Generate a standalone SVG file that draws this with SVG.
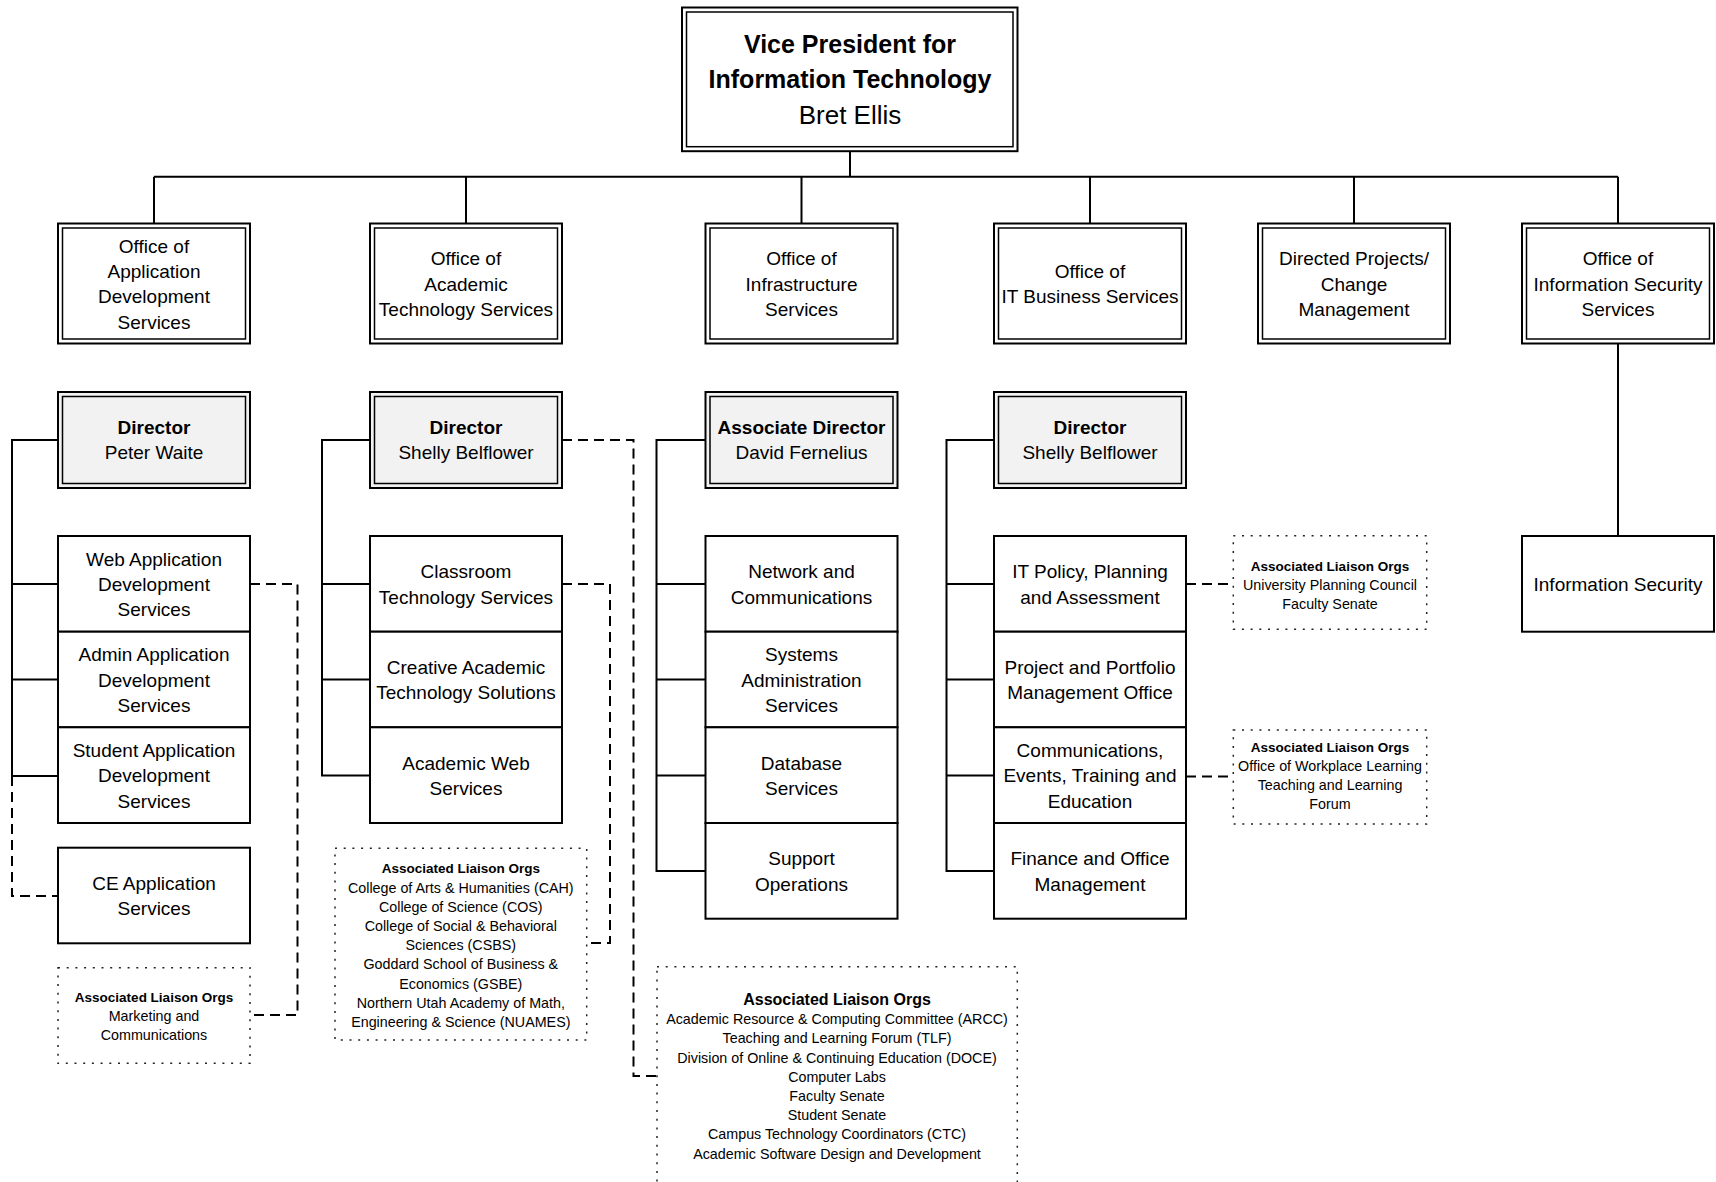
<svg xmlns="http://www.w3.org/2000/svg" width="1716" height="1182" viewBox="0 0 1716 1182">
<style>
.bg{fill:#fff}
.ob{fill:#fff;stroke:#000;stroke-width:2}
.ib{fill:none;stroke:#000;stroke-width:1.5}
.dir{fill:#f2f2f2}
.sb{fill:#fff;stroke:#000;stroke-width:2}
.dot{fill:#fff;stroke:#222;stroke-width:1.5;stroke-dasharray:2 6.7}
.ln{fill:none;stroke:#000;stroke-width:2}
.dl{fill:none;stroke:#000;stroke-width:2;stroke-dasharray:10 6}
text{font-family:"Liberation Sans",Arial,sans-serif;text-anchor:middle;fill:#000}
.t{font-size:19px}
.b{font-weight:bold}
.s{font-size:14.3px}
.sh{font-size:13.5px;font-weight:bold}
.sh2{font-size:16px;font-weight:bold}
</style>
<rect class="bg" x="0" y="0" width="1716" height="1182"/>

<g id="connectors">
  <path class="ln" d="M850 151.5 V176.7 M154 176.7 H1618 M154 176.7 V223.5 M466 176.7 V223.5 M801.5 176.7 V223.5 M1090 176.7 V223.5 M1354 176.7 V223.5 M1618 176.7 V223.5 M1618 343.5 V536"/>
  <path class="ln" d="M58 440 H12 V776 H58 M12 584 H58 M12 679.5 H58"/>
  <path class="dl" d="M12 776 V896 H58"/>
  <path class="ln" d="M370 440 H322 V775.5 H370 M322 584 H370 M322 679.5 H370"/>
  <path class="ln" d="M705.5 440 H656.5 V871 H705.5 M656.5 584 H705.5 M656.5 679.5 H705.5 M656.5 775.5 H705.5"/>
  <path class="ln" d="M994 440 H946.5 V871 H994 M946.5 584 H994 M946.5 679.5 H994 M946.5 775.5 H994"/>
  <path class="dl" d="M250 584 H297.5 V1015 H250"/>
  <path class="dl" d="M562 584 H610 V943 H586.7"/>
  <path class="dl" d="M562 440 H633.5 V1076 H657"/>
  <path class="dl" d="M1186 584 H1233.3"/>
  <path class="dl" d="M1186 776.5 H1233.3"/>
</g>

<g id="vp">
  <rect class="ob" x="682" y="7.5" width="335.5" height="143.7"/>
  <rect class="ib" x="686.5" y="12" width="326.5" height="134.7"/>
  <text x="850" y="53" style="font-size:25px" class="b">Vice President for</text>
  <text x="850" y="87.5" style="font-size:25px" class="b">Information Technology</text>
  <text x="850" y="124" style="font-size:26px">Bret Ellis</text>
</g>

<g id="office-app">
  <rect class="ob" x="58" y="223.5" width="192" height="120"/>
  <rect class="ib" x="62.5" y="228" width="183" height="111"/>
  <text class="t" x="154"><tspan x="154" y="252.7">Office of</tspan><tspan x="154" y="278">Application</tspan><tspan x="154" y="303.3">Development</tspan><tspan x="154" y="328.6">Services</tspan></text>
</g>
<g id="office-academic">
  <rect class="ob" x="370" y="223.5" width="192" height="120"/>
  <rect class="ib" x="374.5" y="228" width="183" height="111"/>
  <text class="t" x="466"><tspan x="466" y="265.4">Office of</tspan><tspan x="466" y="290.7">Academic</tspan><tspan x="466" y="316">Technology Services</tspan></text>
</g>
<g id="office-infra">
  <rect class="ob" x="705.5" y="223.5" width="192" height="120"/>
  <rect class="ib" x="710" y="228" width="183" height="111"/>
  <text class="t" x="801.5"><tspan x="801.5" y="265.4">Office of</tspan><tspan x="801.5" y="290.7">Infrastructure</tspan><tspan x="801.5" y="316">Services</tspan></text>
</g>
<g id="office-business">
  <rect class="ob" x="994" y="223.5" width="192" height="120"/>
  <rect class="ib" x="998.5" y="228" width="183" height="111"/>
  <text class="t" x="1090"><tspan x="1090" y="278">Office of</tspan><tspan x="1090" y="303.3">IT Business Services</tspan></text>
</g>
<g id="directed-projects">
  <rect class="ob" x="1258" y="223.5" width="192" height="120"/>
  <rect class="ib" x="1262.5" y="228" width="183" height="111"/>
  <text class="t" x="1354"><tspan x="1354" y="265.4">Directed Projects/</tspan><tspan x="1354" y="290.7">Change</tspan><tspan x="1354" y="316">Management</tspan></text>
</g>
<g id="office-security">
  <rect class="ob" x="1522" y="223.5" width="192" height="120"/>
  <rect class="ib" x="1526.5" y="228" width="183" height="111"/>
  <text class="t" x="1618"><tspan x="1618" y="265.4">Office of</tspan><tspan x="1618" y="290.7">Information Security</tspan><tspan x="1618" y="316">Services</tspan></text>
</g>

<g id="dir-app">
  <rect class="ob dir" x="58" y="392" width="192" height="96"/>
  <rect class="ib" x="62.5" y="396.5" width="183" height="87"/>
  <text class="t b" x="154" y="433.5">Director</text>
  <text class="t" x="154" y="458.8">Peter Waite</text>
</g>
<g id="dir-academic">
  <rect class="ob dir" x="370" y="392" width="192" height="96"/>
  <rect class="ib" x="374.5" y="396.5" width="183" height="87"/>
  <text class="t b" x="466" y="433.5">Director</text>
  <text class="t" x="466" y="458.8">Shelly Belflower</text>
</g>
<g id="dir-infra">
  <rect class="ob dir" x="705.5" y="392" width="192" height="96"/>
  <rect class="ib" x="710" y="396.5" width="183" height="87"/>
  <text class="t b" x="801.5" y="433.5">Associate Director</text>
  <text class="t" x="801.5" y="458.8">David Fernelius</text>
</g>
<g id="dir-business">
  <rect class="ob dir" x="994" y="392" width="192" height="96"/>
  <rect class="ib" x="998.5" y="396.5" width="183" height="87"/>
  <text class="t b" x="1090" y="433.5">Director</text>
  <text class="t" x="1090" y="458.8">Shelly Belflower</text>
</g>

<g id="web-app">
  <rect class="sb" x="58" y="536" width="192" height="95.7"/>
  <text class="t"><tspan x="154" y="565.5">Web Application</tspan><tspan x="154" y="590.8">Development</tspan><tspan x="154" y="616.1">Services</tspan></text>
</g>
<g id="admin-app">
  <rect class="sb" x="58" y="631.7" width="192" height="95.6"/>
  <text class="t"><tspan x="154" y="661.2">Admin Application</tspan><tspan x="154" y="686.5">Development</tspan><tspan x="154" y="711.8">Services</tspan></text>
</g>
<g id="student-app">
  <rect class="sb" x="58" y="727.3" width="192" height="95.7"/>
  <text class="t"><tspan x="154" y="756.9">Student Application</tspan><tspan x="154" y="782.2">Development</tspan><tspan x="154" y="807.5">Services</tspan></text>
</g>
<g id="ce-app">
  <rect class="sb" x="58" y="847.7" width="192" height="95.6"/>
  <text class="t"><tspan x="154" y="889.9">CE Application</tspan><tspan x="154" y="915.2">Services</tspan></text>
</g>

<g id="classroom">
  <rect class="sb" x="370" y="536" width="192" height="95.7"/>
  <text class="t"><tspan x="466" y="578.2">Classroom</tspan><tspan x="466" y="603.5">Technology Services</tspan></text>
</g>
<g id="creative">
  <rect class="sb" x="370" y="631.7" width="192" height="95.6"/>
  <text class="t"><tspan x="466" y="673.9">Creative Academic</tspan><tspan x="466" y="699.2">Technology Solutions</tspan></text>
</g>
<g id="academic-web">
  <rect class="sb" x="370" y="727.3" width="192" height="95.7"/>
  <text class="t"><tspan x="466" y="769.6">Academic Web</tspan><tspan x="466" y="794.9">Services</tspan></text>
</g>

<g id="network">
  <rect class="sb" x="705.5" y="536" width="192" height="95.7"/>
  <text class="t"><tspan x="801.5" y="578.2">Network and</tspan><tspan x="801.5" y="603.5">Communications</tspan></text>
</g>
<g id="systems">
  <rect class="sb" x="705.5" y="631.7" width="192" height="95.6"/>
  <text class="t"><tspan x="801.5" y="661.2">Systems</tspan><tspan x="801.5" y="686.5">Administration</tspan><tspan x="801.5" y="711.8">Services</tspan></text>
</g>
<g id="database">
  <rect class="sb" x="705.5" y="727.3" width="192" height="95.7"/>
  <text class="t"><tspan x="801.5" y="769.6">Database</tspan><tspan x="801.5" y="794.9">Services</tspan></text>
</g>
<g id="support">
  <rect class="sb" x="705.5" y="823" width="192" height="95.7"/>
  <text class="t"><tspan x="801.5" y="865.2">Support</tspan><tspan x="801.5" y="890.5">Operations</tspan></text>
</g>

<g id="it-policy">
  <rect class="sb" x="994" y="536" width="192" height="95.7"/>
  <text class="t"><tspan x="1090" y="578.2">IT Policy, Planning</tspan><tspan x="1090" y="603.5">and Assessment</tspan></text>
</g>
<g id="portfolio">
  <rect class="sb" x="994" y="631.7" width="192" height="95.6"/>
  <text class="t"><tspan x="1090" y="673.9">Project and Portfolio</tspan><tspan x="1090" y="699.2">Management Office</tspan></text>
</g>
<g id="communications">
  <rect class="sb" x="994" y="727.3" width="192" height="95.7"/>
  <text class="t"><tspan x="1090" y="756.9">Communications,</tspan><tspan x="1090" y="782.2">Events, Training and</tspan><tspan x="1090" y="807.5">Education</tspan></text>
</g>
<g id="finance">
  <rect class="sb" x="994" y="823" width="192" height="95.7"/>
  <text class="t"><tspan x="1090" y="865.2">Finance and Office</tspan><tspan x="1090" y="890.5">Management</tspan></text>
</g>

<g id="information-security">
  <rect class="sb" x="1522" y="536" width="192" height="95.7"/>
  <text class="t" x="1618" y="590.8">Information Security</text>
</g>

<g id="liaison-app">
  <rect class="dot" x="58" y="967.7" width="192" height="95.6"/>
  <text class="sh" x="154" y="1001.7">Associated Liaison Orgs</text>
  <text class="s"><tspan x="154" y="1021">Marketing and</tspan><tspan x="154" y="1040.2">Communications</tspan></text>
</g>
<g id="liaison-classroom">
  <rect class="dot" x="335" y="848.3" width="251.7" height="191.7"/>
  <text class="sh" x="460.8" y="873.3">Associated Liaison Orgs</text>
  <text class="s"><tspan x="460.8" y="892.5">College of Arts &amp; Humanities (CAH)</tspan><tspan x="460.8" y="911.7">College of Science (COS)</tspan><tspan x="460.8" y="930.9">College of Social &amp; Behavioral</tspan><tspan x="460.8" y="950.1">Sciences (CSBS)</tspan><tspan x="460.8" y="969.3">Goddard School of Business &amp;</tspan><tspan x="460.8" y="988.5">Economics (GSBE)</tspan><tspan x="460.8" y="1007.7">Northern Utah Academy of Math,</tspan><tspan x="460.8" y="1026.9">Engineering &amp; Science (NUAMES)</tspan></text>
</g>
<g id="liaison-academic">
  <rect class="dot" x="657" y="966.7" width="360.3" height="230"/>
  <text class="sh2" x="837" y="1005">Associated Liaison Orgs</text>
  <text class="s"><tspan x="837" y="1024.2">Academic Resource &amp; Computing Committee (ARCC)</tspan><tspan x="837" y="1043.4">Teaching and Learning Forum (TLF)</tspan><tspan x="837" y="1062.6">Division of Online &amp; Continuing Education (DOCE)</tspan><tspan x="837" y="1081.8">Computer Labs</tspan><tspan x="837" y="1101">Faculty Senate</tspan><tspan x="837" y="1120.2">Student Senate</tspan><tspan x="837" y="1139.4">Campus Technology Coordinators (CTC)</tspan><tspan x="837" y="1158.6">Academic Software Design and Development</tspan></text>
</g>
<g id="liaison-policy">
  <rect class="dot" x="1233.3" y="535.7" width="193.4" height="93.6"/>
  <text class="sh" x="1330" y="570.7">Associated Liaison Orgs</text>
  <text class="s"><tspan x="1330" y="590.2">University Planning Council</tspan><tspan x="1330" y="609.2">Faculty Senate</tspan></text>
</g>
<g id="liaison-communications">
  <rect class="dot" x="1233.3" y="730" width="193.4" height="94"/>
  <text class="sh" x="1330" y="752.3">Associated Liaison Orgs</text>
  <text class="s"><tspan x="1330" y="771.3">Office of Workplace Learning</tspan><tspan x="1330" y="790.3">Teaching and Learning</tspan><tspan x="1330" y="809.3">Forum</tspan></text>
</g>
</svg>
